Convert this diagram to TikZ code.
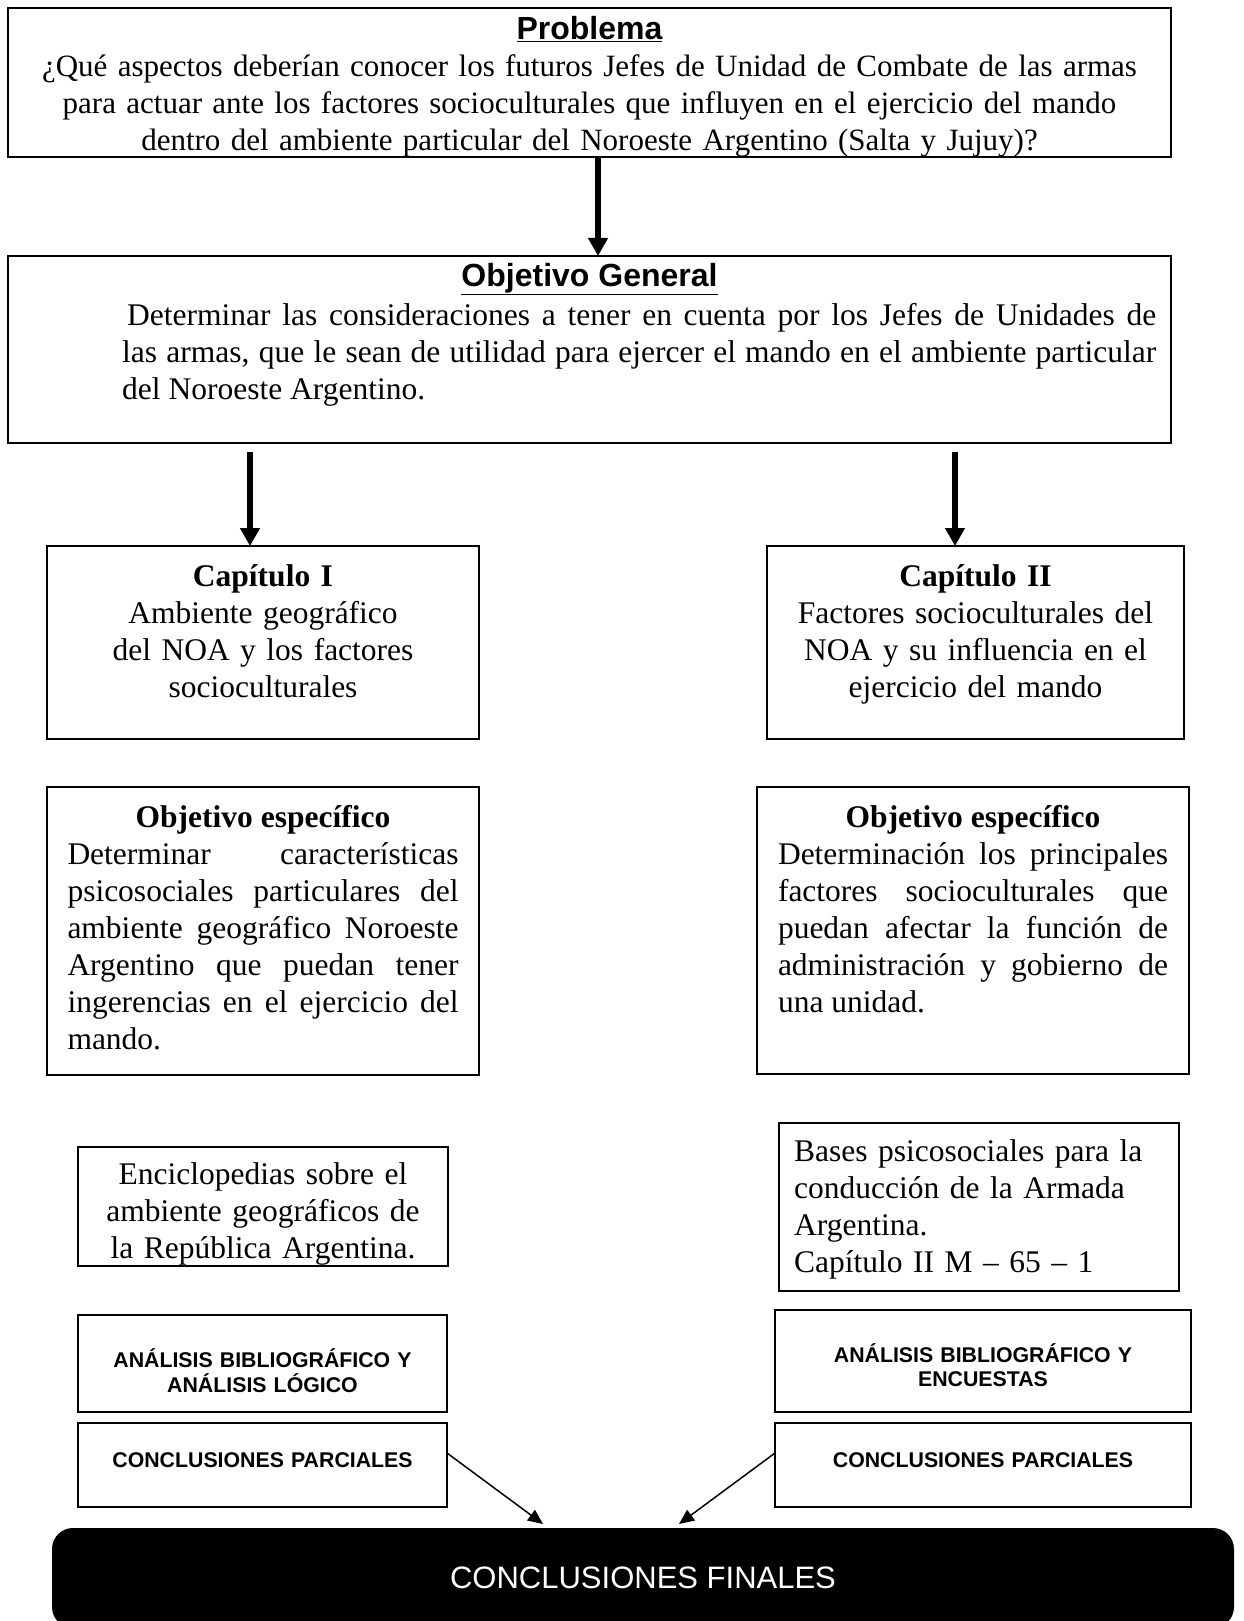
\documentclass[tikz,border=0pt]{standalone}
\usepackage{fontspec}
\setmainfont{Liberation Serif}
\setsansfont{Liberation Sans}
\usepackage{tikz}
\usetikzlibrary{arrows.meta}
\usetikzlibrary{positioning}
\newcommand{\textoG}{\fontsize{31.5}{37.1}\selectfont}
\newcommand{\textoP}{\fontsize{31}{37}\selectfont}
\newcommand{\textoC}{\fontsize{21.3}{24.6}\selectfont}
\newcommand{\justpar}{\tolerance=10000\hyphenpenalty=10000\relax}
\tikzstyle{block} = [draw, rectangle, line width=2pt, inner sep=0pt,
    outer sep=0pt, anchor=north west]
\tikzstyle{texto} = [inner sep=0pt, font=\textoG, align=center, anchor=base]
\tikzstyle{textoj} = [inner sep=0pt, font=\textoG\justpar, align=justify, anchor=base]
\tikzstyle{mayus} = [inner sep=0pt, font=\textoC\sffamily\bfseries, align=center, anchor=base]
\tikzstyle{final} = [fill=black, rounded corners=21pt, inner sep=0pt, outer sep=0pt,
    anchor=north west, text=white, font=\fontsize{31}{36}\selectfont\sffamily]
\tikzstyle{flecha} = [line width=5.5pt, -{Triangle[width=19pt,length=18pt]}]
\tikzstyle{flechita} = [line width=1.5pt, -{Triangle[width=13pt,length=15pt]}]
\begin{document}
\begin{tikzpicture}[x=1pt, y=-1pt]
    \useasboundingbox (0,0) rectangle (1243,1621);
    \clip (0,0) rectangle (1243,1621);
    % the frames first, each one at its own corner
    \node [block, minimum width=1163pt, minimum height=149pt] (problema) at (8,8) {};
    \node [block, minimum width=1163pt, minimum height=187pt] (general) at (8,256) {};
    \node [block, minimum width=432pt, minimum height=193pt] (capI) at (47,546) {};
    \node [block, minimum width=417pt, minimum height=193pt] (capII) at (767,546) {};
    \node [block, minimum width=432pt, minimum height=288pt] (espI) at (47,787) {};
    \node [block, minimum width=432pt, minimum height=287pt] (espII) at (757,787) {};
    % the text of this one is cut by its lower side
    \node [block, minimum width=370pt, minimum height=119pt, path picture={
        \node [texto, text width=360pt] (fuenteItxt)
            at ([yshift=-37pt]path picture bounding box.north)
            {Enciclopedias sobre el\\ ambiente geográficos de\\ la República Argentina.};
        }] (fuenteI) at (78,1147) {};
    \node [block, minimum width=400pt, minimum height=168pt] (fuenteII) at (779,1123) {};
    \node [block, minimum width=369pt, minimum height=97pt] (metodoI) at (78,1315) {};
    \node [block, minimum width=416pt, minimum height=102pt] (metodoII) at (775,1310) {};
    \node [block, minimum width=369pt, minimum height=84pt] (parcialI) at (78,1423) {};
    \node [block, minimum width=416pt, minimum height=84pt] (parcialII) at (775,1423) {};
    \node [final, minimum width=1182pt, minimum height=100pt] (finales) at (52,1528)
        {CONCLUSIONES FINALES};
    % texts hang from the top of their frames
    \node [below=31.5pt of problema.north, texto, font=\textoP, text width=1150pt] (problematxt)
        {{\fontsize{32}{37}\selectfont\sffamily\bfseries\underline{Problema}}\\
        ¿Qué aspectos deberían conocer los futuros Jefes de Unidad de Combate de las armas\\
        para actuar ante los factores socioculturales que influyen en el ejercicio del mando\\
        dentro del ambiente particular del Noroeste Argentino (Salta y Jujuy)?};
    \node [below=30pt of general.north, texto, font=\fontsize{32}{37}\selectfont\sffamily\bfseries]
        (generaltitulo) {\underline{Objetivo General}};
    \node [below right=69pt and 114pt of general.north west, textoj, anchor=base west,
            text width=1034pt] (generaltxt)
        {\hspace*{5pt}Determinar las consideraciones a tener en cuenta por los Jefes de Unidades de\linebreak
        las armas, que le sean de utilidad para ejercer el mando en el ambiente particular\linebreak
        del Noroeste Argentino.};
    \node [below=40pt of capI.north, texto, text width=410pt] (capItxt)
        {\textbf{Capítulo I}\\ Ambiente geográfico\\ del NOA y los factores\\ socioculturales};
    \node [below=40pt of capII.north, texto, text width=400pt] (capIItxt)
        {\textbf{Capítulo II}\\ Factores socioculturales del\\ NOA y su influencia en el\\ ejercicio del mando};
    \node [below=40pt of espI.north, textoj, text width=391pt] (espItxt)
        {{\centering\bfseries Objetivo específico\par}
        Determinar características\linebreak psicosociales particulares del\linebreak
        ambiente geográfico Noroeste\linebreak Argentino que puedan tener\linebreak
        ingerencias en el ejercicio del\linebreak mando.};
    \node [below=40pt of espII.north, textoj, text width=390pt] (espIItxt)
        {{\centering\bfseries Objetivo específico\par}
        Determinación los principales\linebreak factores socioculturales que\linebreak
        puedan afectar la función de\linebreak administración y gobierno de\linebreak
        una unidad.};
    \node [below right=38pt and 15pt of fuenteII.north west, texto, anchor=base west,
            align=left, text width=380pt] (fuenteIItxt)
        {Bases psicosociales para la\\ conducción de la Armada\\ Argentina.\\ Capítulo II M – 65 – 1};
    \node [below=52.5pt of metodoI.north, mayus, text width=360pt] (metodoItxt)
        {ANÁLISIS BIBLIOGRÁFICO Y\\ ANÁLISIS LÓGICO};
    \node [below=52pt of metodoII.north, mayus, text width=400pt] (metodoIItxt)
        {ANÁLISIS BIBLIOGRÁFICO Y\\ ENCUESTAS};
    \node [below=44pt of parcialI.north, mayus, text width=360pt] (parcialItxt)
        {CONCLUSIONES PARCIALES};
    \node [below=44pt of parcialII.north, mayus, text width=400pt] (parcialIItxt)
        {CONCLUSIONES PARCIALES};
    % arrows between the frames
    \coordinate (flechaI) at ([xshift=-13pt]capI.north);
    \coordinate (flechaII) at ([xshift=-20.5pt]capII.north);
    \draw [flecha] ([xshift=8.5pt]problema.south) -- ([xshift=8.5pt]general.north);
    \draw [flecha, shorten <=9pt] (flechaI |- general.south) -- (flechaI);
    \draw [flecha, shorten <=9pt] (flechaII |- general.south) -- (flechaII);
    \draw [flechita] ([yshift=12pt]parcialI.east) -- ([xshift=-100pt,yshift=4pt]finales.north);
    \draw [flechita] ([yshift=12pt]parcialII.west) -- ([xshift=36pt,yshift=4pt]finales.north);
\end{tikzpicture}
\end{document}
